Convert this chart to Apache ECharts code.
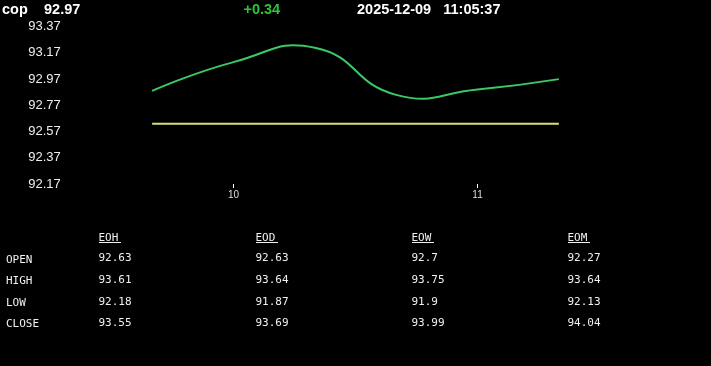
<!DOCTYPE html>
<html>
<head>
<meta charset="utf-8">
<script src="https://cdn.jsdelivr.net/npm/echarts@6/dist/echarts.min.js"></script>
<style>
html,body{margin:0;padding:0;background:#000;}
#c{width:711px;height:366px;}
</style>
</head>
<body>
<div id="c"></div>
<script>
// ---- data ----
var symbolName = 'cop';
var lastPrice = '92.97';
var change = '+0.34';
var stamp = '2025-12-09   11:05:37';

var times = [580, 600, 620, 640, 660, 680];          // minutes since midnight (09:40 .. 11:20)
var prices = [92.88, 93.10, 93.21, 92.85, 92.89, 92.97];
var openRef = [92.63, 92.63, 92.63, 92.63, 92.63, 92.63];

var yTicks = [92.17, 92.37, 92.57, 92.77, 92.97, 93.17, 93.37];
var xTickValues = [600, 660];
var xTickLabels = ['10', '11'];

var tableCols = ['EOH', 'EOD', 'EOW', 'EOM'];
var tableRows = ['OPEN', 'HIGH', 'LOW', 'CLOSE'];
var eoh = [92.63, 93.61, 92.18, 93.55];
var eod = [92.63, 93.64, 91.87, 93.69];
var eow = [92.7, 93.75, 91.9, 93.99];
var eom = [92.27, 93.64, 92.13, 94.04];

// ---- chart ----
var chart = echarts.init(document.getElementById('c'));
var sans = '"Liberation Sans", Arial, sans-serif';
var mono = '"DejaVu Sans Mono", monospace';

var colValues = [eoh, eod, eow, eom];
var colX = [98.5, 255.5, 411.5, 567.5];
var rowYLabel = [260, 281.5, 303, 324.5];
var rowYValue = [258.5, 280, 301.8, 323.5];

var graphics = [
  {type:'text', left:2, top:2, style:{text:symbolName, fill:'#fff', font:'bold 14.5px ' + sans}},
  {type:'text', left:44, top:2, style:{text:lastPrice, fill:'#fff', font:'bold 14.5px ' + sans}},
  {type:'text', left:243.5, top:2, style:{text:change, fill:'#2fc43a', font:'bold 14.5px ' + sans}},
  {type:'text', left:357, top:2, style:{text:stamp, fill:'#fff', font:'bold 14.5px ' + sans, whiteSpace:'pre'}}
];
tableCols.forEach(function(h, ci){
  graphics.push({type:'text', x:colX[ci], y:238, style:{text:h, fill:'#f0f0f0', font:'11px ' + mono, verticalAlign:'middle', align:'left'}});
  graphics.push({type:'line', shape:{x1:colX[ci] + 0.5, y1:242.5, x2:colX[ci] + 22.5, y2:242.5}, style:{stroke:'#f0f0f0', lineWidth:1}});
  colValues[ci].forEach(function(v, ri){
    graphics.push({type:'text', x:colX[ci], y:rowYValue[ri], style:{text:String(v), fill:'#f0f0f0', font:'11px ' + mono, verticalAlign:'middle', align:'left'}});
  });
});
tableRows.forEach(function(r, ri){
  graphics.push({type:'text', x:6, y:rowYLabel[ri], style:{text:r, fill:'#f0f0f0', font:'11px ' + mono, verticalAlign:'middle', align:'left'}});
});

function pairs(xs, ys){ return xs.map(function(x, i){ return [x, ys[i]]; }); }

// smooth curve through points projected by the chart's own axes (classic cardinal-like smoothing)
function smoothPathItem(params, api){
  if (params.dataIndex !== 0) return null;
  var pts = times.map(function(t, i){ return api.coord([t, prices[i]]); });
  var s = 0.5, d = 'M' + pts[0][0] + ' ' + pts[0][1];
  var cp0 = pts[0];
  for (var i = 1; i < pts.length; i++) {
    var p = pts[i], prev = pts[i - 1], next = pts[i + 1];
    var cp1, nextCp;
    if (!next) { cp1 = p; nextCp = p; }
    else {
      var vx = next[0] - prev[0], vy = next[1] - prev[1];
      var l0 = Math.hypot(p[0] - prev[0], p[1] - prev[1]);
      var l1 = Math.hypot(next[0] - p[0], next[1] - p[1]);
      var r = l1 / (l0 + l1);
      nextCp = [p[0] + vx * s * r, p[1] + vy * s * r];
      cp1 = [p[0] - vx * s * (1 - r), p[1] - vy * s * (1 - r)];
    }
    d += ' C' + cp0[0] + ' ' + cp0[1] + ' ' + cp1[0] + ' ' + cp1[1] + ' ' + p[0] + ' ' + p[1];
    cp0 = nextCp;
  }
  return {type:'path', shape:{pathData:d}, style:{fill:'none', stroke:'#3cc866', lineWidth:2}};
}

chart.setOption({
  backgroundColor:'#000',
  animation:false,
  grid:{left:70.8, right:70.8, top:26.7, bottom:182, containLabel:false},
  xAxis:{
    type:'value', min:560, max:700,
    axisLine:{show:false},
    splitLine:{show:false},
    axisTick:{show:true, length:4, lineStyle:{color:'#fff', width:1}, customValues:xTickValues},
    axisLabel:{show:true, color:'#ddd', fontSize:10, fontFamily:sans, margin:6, customValues:xTickValues,
      formatter:function(v){ var i = xTickValues.indexOf(v); return i >= 0 ? xTickLabels[i] : ''; }}
  },
  yAxis:{
    type:'value', min:92.17, max:93.37,
    axisLine:{show:false},
    axisTick:{show:false},
    splitLine:{show:false},
    axisLabel:{show:true, color:'#eee', fontSize:13, fontFamily:sans, margin:10, customValues:yTicks,
      formatter:function(v){ return v.toFixed(2); }}
  },
  series:[
    {type:'line', data:pairs(times, openRef), showSymbol:false, lineStyle:{color:'#d6df78', width:2}, silent:true},
    {type:'custom', data:pairs(times, prices), renderItem:smoothPathItem, silent:true, clip:false}
  ],
  graphic:graphics
});
</script>
</body>
</html>
